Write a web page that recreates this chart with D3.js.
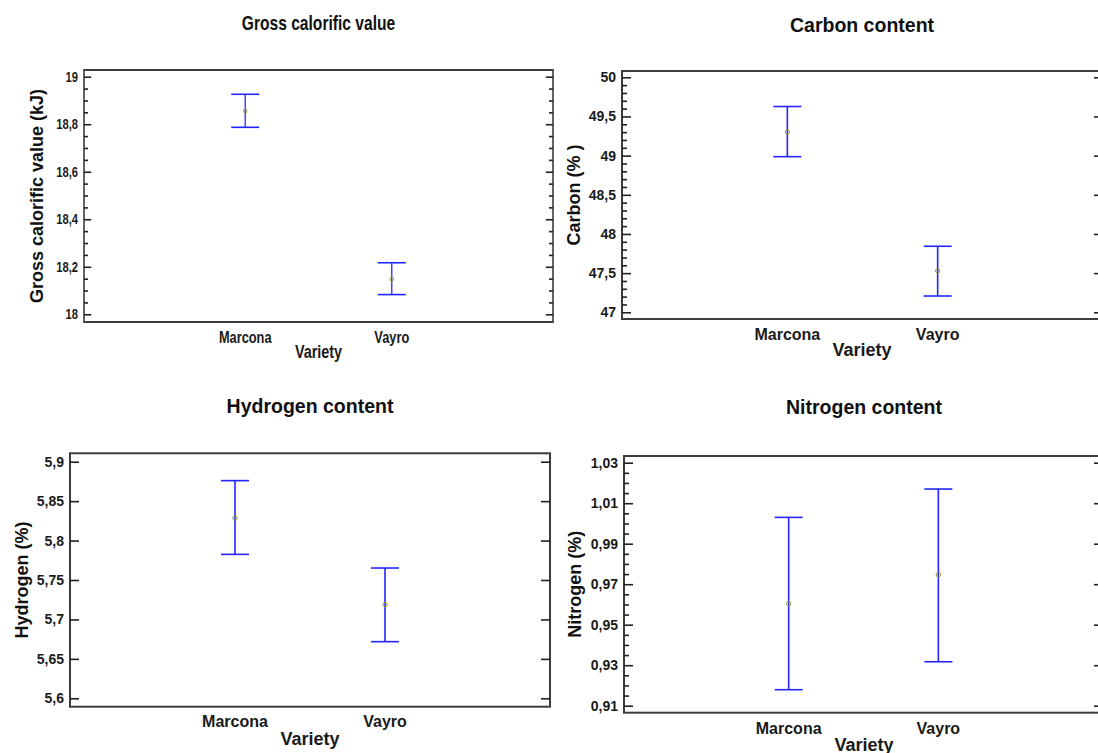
<!DOCTYPE html>
<html>
<head>
<meta charset="utf-8">
<script src="https://cdn.jsdelivr.net/npm/d3@7"></script>
<style>
  body { margin: 0; background: #fff; }
  svg { display: block; font-family: Arial, "Liberation Sans", sans-serif; }
  .tick text { fill: #1a1a1a; font-weight: bold; }
</style>
</head>
<body>
<div id="viz"></div>
<script>
// categories
const varieties = ["Marcona", "Vayro"];

// means and interval limits
const gcvMean = [18.856, 18.148];
const gcvLow = [18.787, 18.083];
const gcvHigh = [18.926, 18.217];

const carbonMean = [49.30, 47.53];
const carbonLow = [48.987, 47.208];
const carbonHigh = [49.627, 47.843];

const hydrogenMean = [5.8286, 5.7187];
const hydrogenLow = [5.7825, 5.6718];
const hydrogenHigh = [5.876, 5.7652];

const nitrogenMean = [0.9604, 0.9747];
const nitrogenLow = [0.9179, 0.9317];
const nitrogenHigh = [1.003, 1.017];

// tick values
const gcvTicks = [18, 18.2, 18.4, 18.6, 18.8, 19];
const carbonTicks = [47, 47.5, 48, 48.5, 49, 49.5, 50];
const hydrogenTicks = [5.6, 5.65, 5.7, 5.75, 5.8, 5.85, 5.9];
const nitrogenTicks = [0.91, 0.93, 0.95, 0.97, 0.99, 1.01, 1.03];

const fmt = d3.formatLocale({decimal: ",", thousands: ".", grouping: [3], currency: ["", ""]}).format(".4~g");

function minors(lo, hi, step) {
    return d3.range(0, Math.round((hi - lo) / step) + 1).map(i => lo + i * step);
}

// layout of each panel, in page pixels
let panels = [
    {title: "Gross calorific value", ylabel: "Gross calorific value (kJ)",
     mean: gcvMean, low: gcvLow, high: gcvHigh, ticks: gcvTicks, minor: minors(18, 19, 0.05), rightMinor: true,
     sx: 0.8, x0: 84, x1: 553, fy0: 70, fy1: 322, ty0: 76.7, ty1: 314.3,
     titleY: 30, ylabX: 43, catY: 343, varY: 358},
    {title: "Carbon content", ylabel: "Carbon (% )",
     mean: carbonMean, low: carbonLow, high: carbonHigh, ticks: carbonTicks, minor: minors(47, 50, 0.1), rightMinor: false,
     sx: 1, x0: 622, x1: 1103, fy0: 71, fy1: 319, ty0: 77.3, ty1: 312.3,
     titleY: 32, ylabX: 580, catY: 340, varY: 356, titleCx: 862},
    {title: "Hydrogen content", ylabel: "Hydrogen (%)",
     mean: hydrogenMean, low: hydrogenLow, high: hydrogenHigh, ticks: hydrogenTicks, minor: [], rightMinor: false,
     sx: 1, x0: 70, x1: 550, fy0: 453.3, fy1: 706.7, ty0: 461.7, ty1: 698.3,
     titleY: 413, ylabX: 28, catY: 727, varY: 745},
    {title: "Nitrogen content", ylabel: "Nitrogen (%)",
     mean: nitrogenMean, low: nitrogenLow, high: nitrogenHigh, ticks: nitrogenTicks, minor: minors(0.91, 1.03, 0.005), rightMinor: false,
     sx: 1, x0: 624, x1: 1103, fy0: 456, fy1: 712.7, ty0: 462.7, ty1: 705.7,
     titleY: 414, ylabX: 581, catY: 734, varY: 751, titleCx: 864}
];

let svg = d3.select("#viz")
    .append("svg")
    .attr("width", 1098)
    .attr("height", 753);

panels.forEach(p => draw_panel(p));

function draw_panel(p) {
    let s = p.sx;
    // panel 1 is squeezed sideways in the original, so draw it wide and scale it
    let g = svg.append("g").attr("transform", "scale(" + s + ",1)");
    let left = p.x0 / s, right = p.x1 / s;
    let cx = (p.titleCx || (p.x0 + p.x1) / 2) / s;

    let x = d3.scalePoint()
        .domain(varieties)
        .range([left, right])
        .padding(1.1);

    let lo = d3.min(p.ticks), hi = d3.max(p.ticks);
    let y = d3.scaleLinear()
        .domain([lo, hi])
        .range([p.ty1, p.ty0]);

    // frame
    g.append("rect")
        .attr("x", left)
        .attr("y", p.fy0)
        .attr("width", right - left)
        .attr("height", p.fy1 - p.fy0)
        .attr("fill", "none")
        .attr("stroke", "#3c3c3c")
        .attr("stroke-width", 2);

    let minorOnly = p.minor.filter(v => !p.ticks.some(t => Math.abs(t - v) < 1e-9));

    // left axis, ticks pointing inward
    let ax = g.append("g")
        .attr("transform", "translate(" + left + ",0)")
        .call(d3.axisLeft(y).tickValues(p.ticks).tickSize(-9).tickPadding(6 / s).tickFormat(fmt));
    ax.select(".domain").remove();
    ax.selectAll("text").attr("font-size", 14);

    let axm = g.append("g")
        .attr("transform", "translate(" + left + ",0)")
        .call(d3.axisLeft(y).tickValues(minorOnly).tickSize(-5).tickFormat(""));
    axm.select(".domain").remove();

    // right axis
    let ar = g.append("g")
        .attr("transform", "translate(" + right + ",0)")
        .call(d3.axisRight(y).tickValues(p.ticks).tickSize(-9).tickFormat(""));
    ar.select(".domain").remove();
    if (p.rightMinor) {
        let arm = g.append("g")
            .attr("transform", "translate(" + right + ",0)")
            .call(d3.axisRight(y).tickValues(minorOnly).tickSize(-5).tickFormat(""));
        arm.select(".domain").remove();
    }
    g.selectAll(".tick line").attr("stroke", "#222").attr("stroke-width", 1.6);

    // error bars
    let data = varieties.map((v, i) => ({v: v, m: p.mean[i], lo: p.low[i], hi: p.high[i]}));
    let bars = g.selectAll(".bar")
        .data(data)
        .enter()
        .append("g");
    bars.append("line")
        .attr("x1", d => x(d.v)).attr("x2", d => x(d.v))
        .attr("y1", d => y(d.lo)).attr("y2", d => y(d.hi));
    bars.append("line")
        .attr("x1", d => x(d.v) - 14 / s).attr("x2", d => x(d.v) + 14 / s)
        .attr("y1", d => y(d.hi)).attr("y2", d => y(d.hi));
    bars.append("line")
        .attr("x1", d => x(d.v) - 14 / s).attr("x2", d => x(d.v) + 14 / s)
        .attr("y1", d => y(d.lo)).attr("y2", d => y(d.lo));
    bars.selectAll("line")
        .attr("stroke", "#2424ff")
        .attr("stroke-width", 1.6);
    bars.append("circle")
        .attr("cx", d => x(d.v))
        .attr("cy", d => y(d.m))
        .attr("r", 2.2)
        .attr("fill", "none")
        .attr("stroke", "#9a9a30")
        .attr("stroke-width", 1);

    // category labels
    g.selectAll(".cat")
        .data(varieties)
        .enter()
        .append("text")
        .attr("x", d => x(d))
        .attr("y", p.catY)
        .attr("text-anchor", "middle")
        .attr("font-size", 16)
        .attr("font-weight", "bold")
        .attr("fill", "#1a1a1a")
        .text(d => d);

    g.append("text")
        .attr("x", cx)
        .attr("y", p.varY)
        .attr("text-anchor", "middle")
        .attr("font-size", 18)
        .attr("font-weight", "bold")
        .attr("fill", "#1a1a1a")
        .text("Variety");

    g.append("text")
        .attr("x", cx)
        .attr("y", p.titleY)
        .attr("text-anchor", "middle")
        .attr("font-size", 19.5)
        .attr("font-weight", "bold")
        .attr("fill", "#111")
        .text(p.title);

    // the y title is not squeezed, so it goes outside the scaled group
    svg.append("text")
        .attr("transform", "translate(" + p.ylabX + "," + ((p.fy0 + p.fy1) / 2) + ") rotate(-90)")
        .attr("text-anchor", "middle")
        .attr("font-size", 18)
        .attr("font-weight", "bold")
        .attr("fill", "#111")
        .text(p.ylabel);
}
</script>
</body>
</html>
